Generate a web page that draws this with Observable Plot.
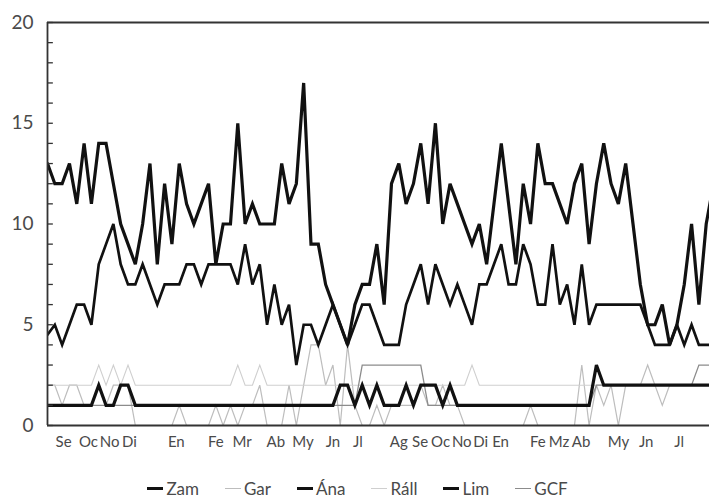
<!DOCTYPE html>
<html><head><meta charset="utf-8">
<script src="https://cdn.jsdelivr.net/npm/d3@7"></script>
<script src="https://cdn.jsdelivr.net/npm/@observablehq/plot@0.6"></script>
<style>
body{margin:0;background:#fff;font-family:Lato,"Open Sans",sans-serif;}
#chart svg{display:block;}
#legend{display:flex;justify-content:center;align-items:center;height:32px;margin-top:0px;padding-top:4px;font-size:17px;color:#4a4a4a;padding-left:6px;}
#legend .item{display:flex;align-items:center;margin:0 13px;}
#legend .sw{display:inline-block;width:16px;margin-right:3px;}
</style></head><body>
<div id="chart"></div>
<div id="legend"></div>
<script>
// weekly counts (index = week from start of September)
const zam = [13,12,12,13,11,14,11,14,14,12,10,9,8,10,13,8,12,9,13,11,10,11,12,8,10,10,15,10,11,10,10,10,13,11,12,17,9,9,7,6,5,4,6,7,7,9,6,12,13,11,12,14,11,15,10,12,11,10,9,10,8,11,14,11,8,12,10,14,12,12,11,10,12,13,9,12,14,12,11,13,10,7,5,5,6,4,5,7,10,6,10,12];
const gar = [2,2,1,2,2,1,1,2,1,2,2,2,0,0,0,0,0,0,1,0,0,0,0,1,0,1,0,1,1,2,0,0,0,2,0,2,4,4,2,3,0,4,1,0,0,1,0,1,1,1,1,2,1,1,2,1,1,0,0,0,0,0,0,0,0,0,1,0,0,0,0,0,0,3,0,2,1,2,0,2,2,2,3,2,1,2,2,2,2,2,2,2];
const ana = [4.5,5,4,5,6,6,5,8,9,10,8,7,7,8,7,6,7,7,7,8,8,7,8,8,8,8,7,9,7,8,5,7,5,6,3,5,5,4,5,6,5,4,5,6,6,5,4,4,4,6,7,8,6,8,7,6,7,6,5,7,7,8,9,7,7,9,8,6,6,9,6,7,5,8,5,6,6,6,6,6,6,6,5,4,4,4,5,4,5,4,4,4];
const rall = [2,2,2,2,2,2,2,3,2,3,2,3,2,2,2,2,2,2,2,2,2,2,2,2,2,2,3,2,2,3,2,2,2,2,2,2,2,2,2,2,2,2,2,2,2,2,2,2,2,2,2,2,2,2,2,2,2,2,3,2,2,2,2,2,2,2,2,2,2,2,2,2,2,2,2,2,2,2,2,2,2,2,2,2,2,2,2,2,2,2,2,2];
const lim = [1,1,1,1,1,1,1,2,1,1,2,2,1,1,1,1,1,1,1,1,1,1,1,1,1,1,1,1,1,1,1,1,1,1,1,1,1,1,1,1,2,2,1,2,1,2,1,1,1,2,1,2,2,2,1,2,1,1,1,1,1,1,1,1,1,1,1,1,1,1,1,1,1,1,1,3,2,2,2,2,2,2,2,2,2,2,2,2,2,2,2,2];
const gcf = [1,1,1,1,1,1,1,1,1,1,1,1,1,1,1,1,1,1,1,1,1,1,1,1,1,1,1,1,1,1,1,1,1,1,1,1,1,1,1,1,1,1,1,3,3,3,3,3,3,3,3,3,1,1,1,1,1,1,1,1,1,1,1,1,1,1,1,1,1,1,1,1,1,1,1,2,2,2,2,2,2,2,2,2,2,2,2,2,2,3,3,3];

const monthLabels = ["Se","Oc","No","Di","En","Fe","Mr","Ab","My","Jn","Jl","Ag","Se","Oc","No","Di","En","Fe","Mz","Ab","My","Jn","Jl"];
const monthWeeks  = [2.2,5.6,8.5,11.2,17.6,23,26.6,31.2,34.9,39,42.4,48,50.9,53.7,56.6,59.2,61.9,67,69.9,72.9,78,81.8,86.3];
const yTicks = [0,5,10,15,20];
const yMinor = [1,2,3,4,6,7,8,9,11,12,13,14,16,17,18,19];

const series = [
  {name:"Gar",  values:gar,  stroke:"#bdbdbd", width:1.2},
  {name:"Ráll", values:rall, stroke:"#cfcfcf", width:1.1},
  {name:"GCF",  values:gcf,  stroke:"#8c8c8c", width:1.3},
  {name:"Lim",  values:lim,  stroke:"#111",    width:3.2},
  {name:"Ána",  values:ana,  stroke:"#111",    width:2.7},
  {name:"Zam",  values:zam,  stroke:"#111",    width:3.2}
];
const legendOrder = ["Zam","Gar","Ána","Ráll","Lim","GCF"];

const lineMarks = series.map(s => Plot.line(s.values.map((v,i)=>({week:i, value:v})), {
  x:"week", y:"value", stroke:s.stroke, strokeWidth:s.width, strokeLinejoin:"miter", strokeMiterlimit:3, clip:true
}));

const chart = Plot.plot({
  width:709, height:468,
  marginTop:22, marginBottom:43, marginLeft:47, marginRight:0,
  x:{domain:[0,90.45], axis:null},
  y:{domain:[0,20], axis:null},
  style:{fontFamily:"Lato, 'Open Sans', sans-serif", background:"#fff"},
  marks:[
    ...lineMarks,
    Plot.ruleY([0,20], {stroke:"#333", strokeWidth:1.8}),
    Plot.ruleX([0], {stroke:"#333", strokeWidth:1.8}),
    Plot.ruleY(yMinor.concat(yTicks), {x1:0, x2:0.8, stroke:"#333", strokeWidth:1.3}),
    Plot.axisY({ticks:yTicks, tickSize:0, tickPadding:14, fontSize:19, fill:"#4a4a4a", label:null, tickFormat:d=>String(d)}),
    Plot.text(monthLabels, {x:(d,i)=>monthWeeks[i], text:d=>d, frameAnchor:"bottom", dy:21, fontSize:15, fill:"#4a4a4a", letterSpacing:"-0.6px"})
  ]
});
document.getElementById("chart").appendChild(chart);

const leg = document.getElementById("legend");
legendOrder.forEach(n => {
  const s = series.find(d=>d.name===n);
  const it = document.createElement("span"); it.className="item";
  const sw = document.createElement("span"); sw.className="sw";
  sw.style.borderTop = `${Math.max(1,Math.round(s.width))}px solid ${s.stroke}`;
  it.appendChild(sw);
  it.appendChild(document.createTextNode(n));
  leg.appendChild(it);
});
</script>
</body></html>
